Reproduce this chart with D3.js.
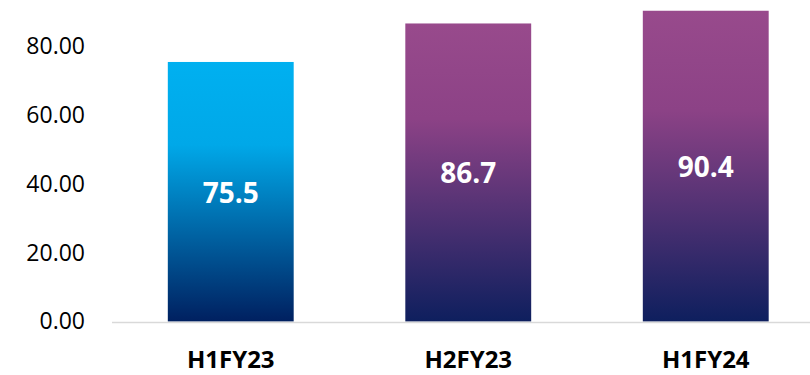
<!DOCTYPE html>
<html>
<head>
<meta charset="utf-8">
<script src="https://cdn.jsdelivr.net/npm/d3@7"></script>
<style>
  body { margin: 0; background: #fff; }
  text { font-family: "Open Sans", sans-serif; }
</style>
</head>
<body>
<script>
// chart data
var periods = ["H1FY23", "H2FY23", "H1FY24"];
var values = [75.5, 86.7, 90.4];
var yTicks = [0, 20, 40, 60, 80];

// gradient per bar: top colour, mid colour, bottom colour
var gradTop = ["#00B0F0", "#984A8C", "#984A8C"];
var gradMid = ["#00A8E8", "#8C4286", "#8C4286"];
var gradBottom = ["#002060", "#0E1F5E", "#0E1F5E"];

var w = 810;
var h = 375;

var svg = d3.select("body")
            .append("svg")
            .attr("width", w)
            .attr("height", h);

// scales
var yScale = d3.scaleLinear()
               .domain([0, 80])
               .range([321.5, 46.5]);

var xScale = d3.scaleBand()
               .domain(periods)
               .range([112, 824.5])
               .paddingInner(0.47)
               .paddingOuter(0.235);

// gradients
var defs = svg.append("defs");
periods.forEach(function(p, i) {
  var g = defs.append("linearGradient")
              .attr("id", "grad" + i)
              .attr("x1", 0).attr("y1", 0)
              .attr("x2", 0).attr("y2", 1);
  g.append("stop").attr("offset", "0%").attr("stop-color", gradTop[i]);
  g.append("stop").attr("offset", "32%").attr("stop-color", gradMid[i]);
  g.append("stop").attr("offset", "100%").attr("stop-color", gradBottom[i]);
});

// y axis labels
var yAxis = d3.axisLeft(yScale)
              .tickValues(yTicks)
              .tickFormat(d3.format(".2f"))
              .tickSize(0)
              .tickPadding(0);

var yG = svg.append("g")
            .attr("transform", "translate(85,0)")
            .call(yAxis);
yG.select(".domain").remove();
yG.selectAll("text")
  .attr("font-family", "'Open Sans', sans-serif")
  .attr("font-size", "23px")
  .attr("fill", "#000");

// bars
svg.selectAll(".bar")
   .data(values)
   .enter()
   .append("rect")
   .attr("class", "bar")
   .attr("x", function(d, i) { return xScale(periods[i]); })
   .attr("y", function(d) { return yScale(d); })
   .attr("width", xScale.bandwidth())
   .attr("height", function(d) { return yScale(0) - yScale(d); })
   .attr("fill", function(d, i) { return "url(#grad" + i + ")"; });

// baseline
svg.append("line")
   .attr("x1", 112)
   .attr("x2", w)
   .attr("y1", yScale(0) + 1)
   .attr("y2", yScale(0) + 1)
   .attr("stroke", "#D9D9D9")
   .attr("stroke-width", 1.5);

// value labels
svg.selectAll(".val")
   .data(values)
   .enter()
   .append("text")
   .attr("class", "val")
   .attr("x", function(d, i) { return xScale(periods[i]) + xScale.bandwidth() / 2; })
   .attr("y", function(d) { return (yScale(d) + yScale(0)) / 2 + 11; })
   .attr("text-anchor", "middle")
   .attr("font-size", "28px")
   .attr("font-weight", "bold")
   .attr("fill", "#fff")
   .text(function(d) { return d.toFixed(1); });

// category labels
svg.selectAll(".cat")
   .data(periods)
   .enter()
   .append("text")
   .attr("class", "cat")
   .attr("x", function(d) { return xScale(d) + xScale.bandwidth() / 2; })
   .attr("y", 368)
   .attr("text-anchor", "middle")
   .attr("font-size", "24px")
   .attr("font-weight", "bold")
   .attr("fill", "#000")
   .text(function(d) { return d; });
</script>
</body>
</html>
